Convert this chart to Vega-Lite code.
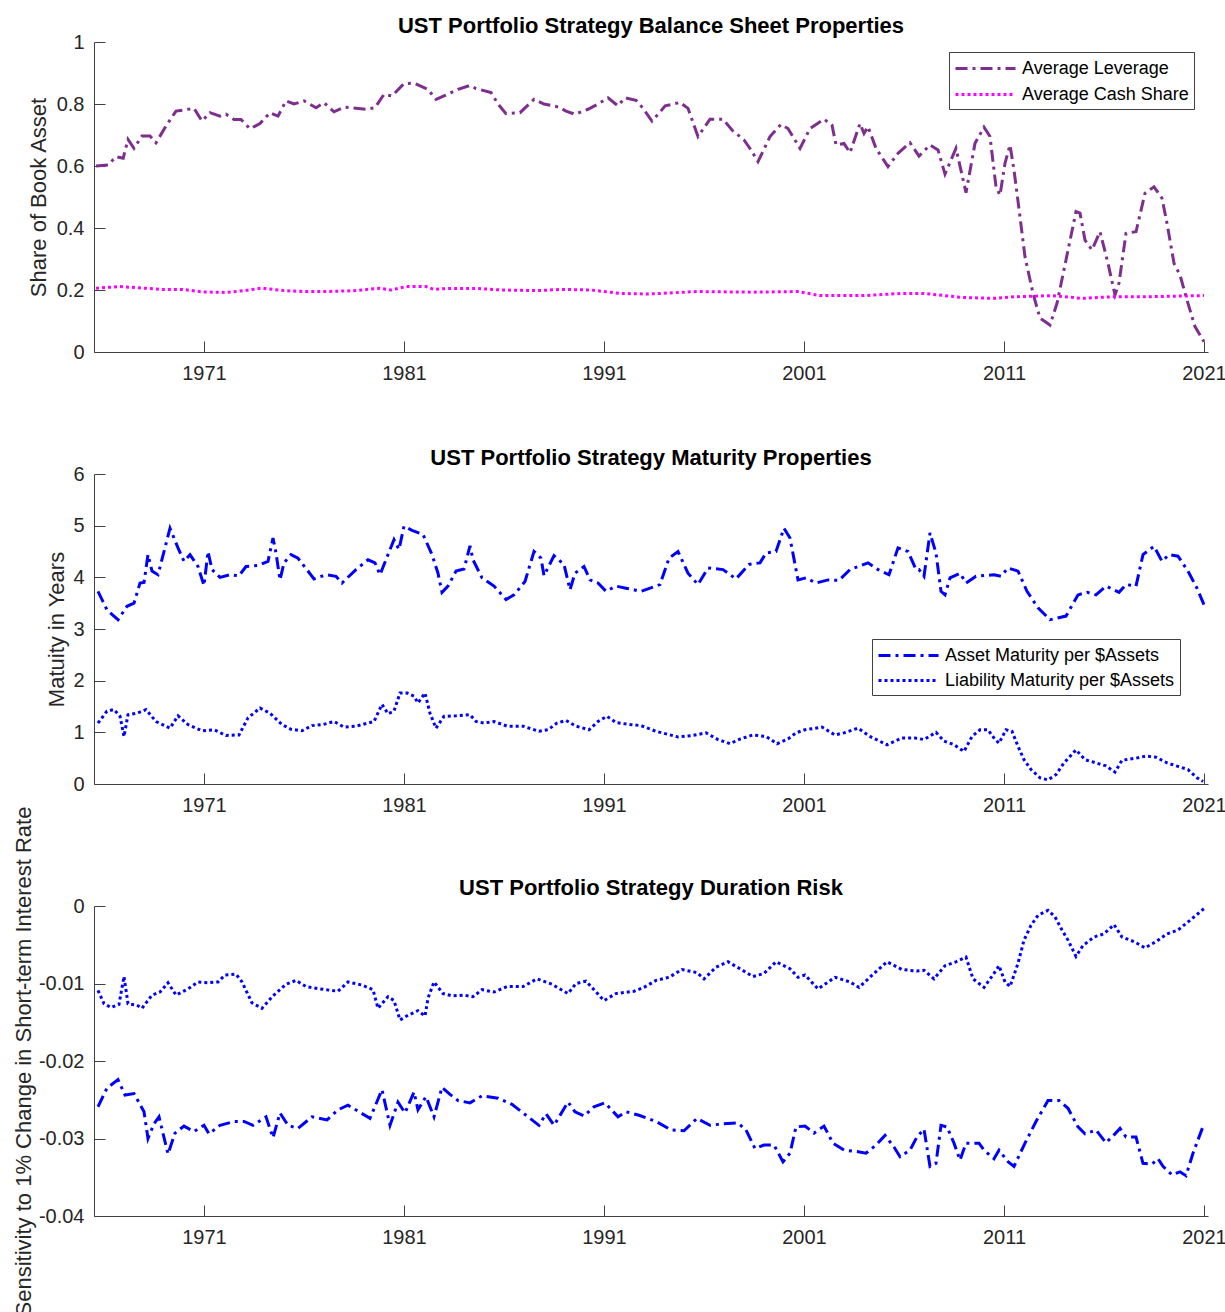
{
"$schema": "https://vega.github.io/schema/vega-lite/v6.json",
"background": "white",
"padding": {"left": 11, "top": 15, "right": 5, "bottom": 0},
"config": {
  "font": "Liberation Sans",
  "view": {"stroke": null},
  "axis": {"grid": false, "domainColor": "#404040", "tickColor": "#404040", "labelColor": "#262626", "titleColor": "#262626", "labelFontSize": 20, "titleFontSize": 22, "titleFontWeight": "normal", "tickSize": -11, "labelFont": "Liberation Sans", "titleFont": "Liberation Sans"},
  "title": {"fontSize": 22, "fontWeight": "bold", "color": "#000000", "offset": 9, "baseline": "alphabetic", "frame": "group", "anchor": "middle", "font": "Liberation Sans"},
  "legend": {"labelFont": "Liberation Sans", "labelFontSize": 18, "labelColor": "#000000", "labelLimit": 0}
},
"datasets": {
"p1": [
{"s":"Average Leverage","t":1965.6,"v":0.600},{"s":"Average Leverage","t":1966.2,"v":0.603},{"s":"Average Leverage","t":1966.6,"v":0.630},{"s":"Average Leverage","t":1966.96,"v":0.625},{"s":"Average Leverage","t":1967.2,"v":0.686},{"s":"Average Leverage","t":1967.5,"v":0.657},{"s":"Average Leverage","t":1967.9,"v":0.697},{"s":"Average Leverage","t":1968.3,"v":0.697},{"s":"Average Leverage","t":1968.6,"v":0.675},{"s":"Average Leverage","t":1969.1,"v":0.729},{"s":"Average Leverage","t":1969.6,"v":0.777},{"s":"Average Leverage","t":1970.5,"v":0.786},{"s":"Average Leverage","t":1970.9,"v":0.745},{"s":"Average Leverage","t":1971.3,"v":0.772},{"s":"Average Leverage","t":1971.8,"v":0.761},{"s":"Average Leverage","t":1972.1,"v":0.767},{"s":"Average Leverage","t":1972.5,"v":0.750},{"s":"Average Leverage","t":1972.85,"v":0.750},{"s":"Average Leverage","t":1973.3,"v":0.720},{"s":"Average Leverage","t":1973.8,"v":0.737},{"s":"Average Leverage","t":1974.3,"v":0.772},{"s":"Average Leverage","t":1974.7,"v":0.761},{"s":"Average Leverage","t":1975.1,"v":0.810},{"s":"Average Leverage","t":1975.5,"v":0.800},{"s":"Average Leverage","t":1976.0,"v":0.810},{"s":"Average Leverage","t":1976.6,"v":0.788},{"s":"Average Leverage","t":1977.0,"v":0.804},{"s":"Average Leverage","t":1977.5,"v":0.775},{"s":"Average Leverage","t":1978.0,"v":0.790},{"s":"Average Leverage","t":1978.6,"v":0.786},{"s":"Average Leverage","t":1979.1,"v":0.783},{"s":"Average Leverage","t":1979.55,"v":0.788},{"s":"Average Leverage","t":1980.0,"v":0.831},{"s":"Average Leverage","t":1980.4,"v":0.826},{"s":"Average Leverage","t":1981.0,"v":0.866},{"s":"Average Leverage","t":1981.5,"v":0.867},{"s":"Average Leverage","t":1982.0,"v":0.853},{"s":"Average Leverage","t":1982.2,"v":0.847},{"s":"Average Leverage","t":1982.6,"v":0.815},{"s":"Average Leverage","t":1983.0,"v":0.826},{"s":"Average Leverage","t":1983.7,"v":0.847},{"s":"Average Leverage","t":1984.3,"v":0.860},{"s":"Average Leverage","t":1984.6,"v":0.850},{"s":"Average Leverage","t":1985.35,"v":0.837},{"s":"Average Leverage","t":1985.7,"v":0.800},{"s":"Average Leverage","t":1986.1,"v":0.769},{"s":"Average Leverage","t":1986.8,"v":0.772},{"s":"Average Leverage","t":1987.5,"v":0.815},{"s":"Average Leverage","t":1988.0,"v":0.800},{"s":"Average Leverage","t":1988.75,"v":0.790},{"s":"Average Leverage","t":1989.1,"v":0.777},{"s":"Average Leverage","t":1989.55,"v":0.767},{"s":"Average Leverage","t":1990.2,"v":0.783},{"s":"Average Leverage","t":1990.7,"v":0.800},{"s":"Average Leverage","t":1991.2,"v":0.820},{"s":"Average Leverage","t":1991.7,"v":0.794},{"s":"Average Leverage","t":1992.05,"v":0.820},{"s":"Average Leverage","t":1992.6,"v":0.812},{"s":"Average Leverage","t":1992.9,"v":0.790},{"s":"Average Leverage","t":1993.4,"v":0.745},{"s":"Average Leverage","t":1994.06,"v":0.794},{"s":"Average Leverage","t":1994.8,"v":0.805},{"s":"Average Leverage","t":1995.2,"v":0.786},{"s":"Average Leverage","t":1995.7,"v":0.695},{"s":"Average Leverage","t":1996.3,"v":0.751},{"s":"Average Leverage","t":1996.95,"v":0.751},{"s":"Average Leverage","t":1997.4,"v":0.716},{"s":"Average Leverage","t":1998.0,"v":0.684},{"s":"Average Leverage","t":1998.35,"v":0.652},{"s":"Average Leverage","t":1998.7,"v":0.614},{"s":"Average Leverage","t":1999.3,"v":0.695},{"s":"Average Leverage","t":1999.85,"v":0.734},{"s":"Average Leverage","t":2000.2,"v":0.721},{"s":"Average Leverage","t":2000.8,"v":0.657},{"s":"Average Leverage","t":2001.3,"v":0.721},{"s":"Average Leverage","t":2002.0,"v":0.751},{"s":"Average Leverage","t":2002.4,"v":0.732},{"s":"Average Leverage","t":2002.6,"v":0.668},{"s":"Average Leverage","t":2003.0,"v":0.673},{"s":"Average Leverage","t":2003.3,"v":0.643},{"s":"Average Leverage","t":2003.8,"v":0.737},{"s":"Average Leverage","t":2004.0,"v":0.705},{"s":"Average Leverage","t":2004.2,"v":0.727},{"s":"Average Leverage","t":2004.6,"v":0.657},{"s":"Average Leverage","t":2005.2,"v":0.598},{"s":"Average Leverage","t":2005.7,"v":0.641},{"s":"Average Leverage","t":2006.3,"v":0.675},{"s":"Average Leverage","t":2006.75,"v":0.632},{"s":"Average Leverage","t":2007.3,"v":0.668},{"s":"Average Leverage","t":2007.7,"v":0.652},{"s":"Average Leverage","t":2008.05,"v":0.574},{"s":"Average Leverage","t":2008.6,"v":0.657},{"s":"Average Leverage","t":2009.1,"v":0.514},{"s":"Average Leverage","t":2009.55,"v":0.673},{"s":"Average Leverage","t":2010.0,"v":0.725},{"s":"Average Leverage","t":2010.3,"v":0.695},{"s":"Average Leverage","t":2010.6,"v":0.533},{"s":"Average Leverage","t":2010.8,"v":0.506},{"s":"Average Leverage","t":2011.05,"v":0.609},{"s":"Average Leverage","t":2011.3,"v":0.668},{"s":"Average Leverage","t":2011.5,"v":0.587},{"s":"Average Leverage","t":2011.8,"v":0.436},{"s":"Average Leverage","t":2012.05,"v":0.307},{"s":"Average Leverage","t":2012.45,"v":0.189},{"s":"Average Leverage","t":2012.8,"v":0.109},{"s":"Average Leverage","t":2013.3,"v":0.087},{"s":"Average Leverage","t":2013.65,"v":0.157},{"s":"Average Leverage","t":2014.1,"v":0.297},{"s":"Average Leverage","t":2014.6,"v":0.453},{"s":"Average Leverage","t":2014.8,"v":0.448},{"s":"Average Leverage","t":2015.05,"v":0.361},{"s":"Average Leverage","t":2015.4,"v":0.329},{"s":"Average Leverage","t":2015.8,"v":0.388},{"s":"Average Leverage","t":2016.2,"v":0.286},{"s":"Average Leverage","t":2016.55,"v":0.184},{"s":"Average Leverage","t":2016.75,"v":0.222},{"s":"Average Leverage","t":2017.1,"v":0.383},{"s":"Average Leverage","t":2017.6,"v":0.388},{"s":"Average Leverage","t":2018.05,"v":0.512},{"s":"Average Leverage","t":2018.5,"v":0.533},{"s":"Average Leverage","t":2018.9,"v":0.496},{"s":"Average Leverage","t":2019.15,"v":0.415},{"s":"Average Leverage","t":2019.5,"v":0.286},{"s":"Average Leverage","t":2019.8,"v":0.248},{"s":"Average Leverage","t":2020.2,"v":0.157},{"s":"Average Leverage","t":2020.55,"v":0.082},{"s":"Average Leverage","t":2021.0,"v":0.033},
{"s":"Average Cash Share","t":1965.6,"v":0.206},{"s":"Average Cash Share","t":1966.8,"v":0.211},{"s":"Average Cash Share","t":1968.0,"v":0.206},{"s":"Average Cash Share","t":1968.9,"v":0.202},{"s":"Average Cash Share","t":1969.9,"v":0.202},{"s":"Average Cash Share","t":1970.9,"v":0.194},{"s":"Average Cash Share","t":1972.1,"v":0.192},{"s":"Average Cash Share","t":1973.0,"v":0.198},{"s":"Average Cash Share","t":1973.9,"v":0.206},{"s":"Average Cash Share","t":1975.0,"v":0.198},{"s":"Average Cash Share","t":1976.1,"v":0.195},{"s":"Average Cash Share","t":1977.1,"v":0.195},{"s":"Average Cash Share","t":1978.6,"v":0.198},{"s":"Average Cash Share","t":1979.8,"v":0.206},{"s":"Average Cash Share","t":1980.35,"v":0.200},{"s":"Average Cash Share","t":1981.1,"v":0.211},{"s":"Average Cash Share","t":1982.1,"v":0.211},{"s":"Average Cash Share","t":1982.5,"v":0.202},{"s":"Average Cash Share","t":1983.2,"v":0.205},{"s":"Average Cash Share","t":1984.6,"v":0.205},{"s":"Average Cash Share","t":1985.9,"v":0.200},{"s":"Average Cash Share","t":1987.7,"v":0.198},{"s":"Average Cash Share","t":1988.9,"v":0.202},{"s":"Average Cash Share","t":1990.35,"v":0.200},{"s":"Average Cash Share","t":1991.8,"v":0.189},{"s":"Average Cash Share","t":1993.2,"v":0.187},{"s":"Average Cash Share","t":1995.65,"v":0.195},{"s":"Average Cash Share","t":1998.45,"v":0.193},{"s":"Average Cash Share","t":2000.7,"v":0.195},{"s":"Average Cash Share","t":2001.8,"v":0.182},{"s":"Average Cash Share","t":2004.0,"v":0.182},{"s":"Average Cash Share","t":2005.9,"v":0.189},{"s":"Average Cash Share","t":2007.0,"v":0.189},{"s":"Average Cash Share","t":2008.9,"v":0.176},{"s":"Average Cash Share","t":2010.6,"v":0.173},{"s":"Average Cash Share","t":2011.5,"v":0.178},{"s":"Average Cash Share","t":2013.4,"v":0.182},{"s":"Average Cash Share","t":2014.9,"v":0.173},{"s":"Average Cash Share","t":2016.35,"v":0.178},{"s":"Average Cash Share","t":2018.0,"v":0.178},{"s":"Average Cash Share","t":2021.0,"v":0.182}
],
"p2": [
{"s":"Asset Maturity per $Assets","t":1965.7,"v":3.73},{"s":"Asset Maturity per $Assets","t":1966.15,"v":3.37},{"s":"Asset Maturity per $Assets","t":1966.7,"v":3.18},{"s":"Asset Maturity per $Assets","t":1967.15,"v":3.44},{"s":"Asset Maturity per $Assets","t":1967.5,"v":3.50},{"s":"Asset Maturity per $Assets","t":1967.8,"v":3.89},{"s":"Asset Maturity per $Assets","t":1968.0,"v":3.90},{"s":"Asset Maturity per $Assets","t":1968.2,"v":4.44},{"s":"Asset Maturity per $Assets","t":1968.4,"v":4.12},{"s":"Asset Maturity per $Assets","t":1968.7,"v":4.05},{"s":"Asset Maturity per $Assets","t":1969.3,"v":4.95},{"s":"Asset Maturity per $Assets","t":1969.7,"v":4.57},{"s":"Asset Maturity per $Assets","t":1970.0,"v":4.31},{"s":"Asset Maturity per $Assets","t":1970.3,"v":4.44},{"s":"Asset Maturity per $Assets","t":1970.7,"v":4.21},{"s":"Asset Maturity per $Assets","t":1971.0,"v":3.84},{"s":"Asset Maturity per $Assets","t":1971.2,"v":4.50},{"s":"Asset Maturity per $Assets","t":1971.4,"v":4.15},{"s":"Asset Maturity per $Assets","t":1971.8,"v":4.00},{"s":"Asset Maturity per $Assets","t":1972.3,"v":4.05},{"s":"Asset Maturity per $Assets","t":1972.75,"v":4.03},{"s":"Asset Maturity per $Assets","t":1973.1,"v":4.21},{"s":"Asset Maturity per $Assets","t":1973.7,"v":4.23},{"s":"Asset Maturity per $Assets","t":1974.2,"v":4.31},{"s":"Asset Maturity per $Assets","t":1974.45,"v":4.76},{"s":"Asset Maturity per $Assets","t":1974.6,"v":4.47},{"s":"Asset Maturity per $Assets","t":1974.8,"v":3.95},{"s":"Asset Maturity per $Assets","t":1975.0,"v":4.28},{"s":"Asset Maturity per $Assets","t":1975.35,"v":4.44},{"s":"Asset Maturity per $Assets","t":1975.7,"v":4.37},{"s":"Asset Maturity per $Assets","t":1976.5,"v":3.97},{"s":"Asset Maturity per $Assets","t":1977.1,"v":4.05},{"s":"Asset Maturity per $Assets","t":1977.6,"v":4.02},{"s":"Asset Maturity per $Assets","t":1977.9,"v":3.89},{"s":"Asset Maturity per $Assets","t":1978.6,"v":4.15},{"s":"Asset Maturity per $Assets","t":1979.2,"v":4.34},{"s":"Asset Maturity per $Assets","t":1979.55,"v":4.28},{"s":"Asset Maturity per $Assets","t":1979.8,"v":4.05},{"s":"Asset Maturity per $Assets","t":1980.2,"v":4.44},{"s":"Asset Maturity per $Assets","t":1980.5,"v":4.73},{"s":"Asset Maturity per $Assets","t":1980.75,"v":4.54},{"s":"Asset Maturity per $Assets","t":1981.0,"v":4.99},{"s":"Asset Maturity per $Assets","t":1981.4,"v":4.91},{"s":"Asset Maturity per $Assets","t":1981.95,"v":4.83},{"s":"Asset Maturity per $Assets","t":1982.4,"v":4.44},{"s":"Asset Maturity per $Assets","t":1982.7,"v":4.08},{"s":"Asset Maturity per $Assets","t":1982.9,"v":3.71},{"s":"Asset Maturity per $Assets","t":1983.2,"v":3.83},{"s":"Asset Maturity per $Assets","t":1983.6,"v":4.12},{"s":"Asset Maturity per $Assets","t":1984.0,"v":4.16},{"s":"Asset Maturity per $Assets","t":1984.3,"v":4.61},{"s":"Asset Maturity per $Assets","t":1984.45,"v":4.34},{"s":"Asset Maturity per $Assets","t":1984.9,"v":3.99},{"s":"Asset Maturity per $Assets","t":1985.5,"v":3.83},{"s":"Asset Maturity per $Assets","t":1986.1,"v":3.57},{"s":"Asset Maturity per $Assets","t":1986.5,"v":3.66},{"s":"Asset Maturity per $Assets","t":1987.05,"v":3.92},{"s":"Asset Maturity per $Assets","t":1987.5,"v":4.50},{"s":"Asset Maturity per $Assets","t":1987.85,"v":4.37},{"s":"Asset Maturity per $Assets","t":1988.0,"v":4.03},{"s":"Asset Maturity per $Assets","t":1988.5,"v":4.42},{"s":"Asset Maturity per $Assets","t":1989.0,"v":4.25},{"s":"Asset Maturity per $Assets","t":1989.3,"v":3.76},{"s":"Asset Maturity per $Assets","t":1989.55,"v":4.08},{"s":"Asset Maturity per $Assets","t":1990.0,"v":4.21},{"s":"Asset Maturity per $Assets","t":1990.3,"v":3.95},{"s":"Asset Maturity per $Assets","t":1990.7,"v":3.89},{"s":"Asset Maturity per $Assets","t":1991.1,"v":3.73},{"s":"Asset Maturity per $Assets","t":1991.6,"v":3.83},{"s":"Asset Maturity per $Assets","t":1992.1,"v":3.79},{"s":"Asset Maturity per $Assets","t":1992.85,"v":3.73},{"s":"Asset Maturity per $Assets","t":1993.8,"v":3.86},{"s":"Asset Maturity per $Assets","t":1994.25,"v":4.37},{"s":"Asset Maturity per $Assets","t":1994.7,"v":4.50},{"s":"Asset Maturity per $Assets","t":1995.2,"v":4.08},{"s":"Asset Maturity per $Assets","t":1995.7,"v":3.86},{"s":"Asset Maturity per $Assets","t":1996.2,"v":4.18},{"s":"Asset Maturity per $Assets","t":1996.95,"v":4.15},{"s":"Asset Maturity per $Assets","t":1997.6,"v":3.97},{"s":"Asset Maturity per $Assets","t":1998.25,"v":4.25},{"s":"Asset Maturity per $Assets","t":1998.8,"v":4.28},{"s":"Asset Maturity per $Assets","t":1999.1,"v":4.47},{"s":"Asset Maturity per $Assets","t":1999.6,"v":4.50},{"s":"Asset Maturity per $Assets","t":2000.0,"v":4.95},{"s":"Asset Maturity per $Assets","t":2000.3,"v":4.76},{"s":"Asset Maturity per $Assets","t":2000.7,"v":3.95},{"s":"Asset Maturity per $Assets","t":2001.1,"v":3.99},{"s":"Asset Maturity per $Assets","t":2001.6,"v":3.89},{"s":"Asset Maturity per $Assets","t":2002.2,"v":3.95},{"s":"Asset Maturity per $Assets","t":2002.75,"v":3.94},{"s":"Asset Maturity per $Assets","t":2003.3,"v":4.15},{"s":"Asset Maturity per $Assets","t":2004.2,"v":4.28},{"s":"Asset Maturity per $Assets","t":2004.7,"v":4.15},{"s":"Asset Maturity per $Assets","t":2005.25,"v":4.05},{"s":"Asset Maturity per $Assets","t":2005.7,"v":4.57},{"s":"Asset Maturity per $Assets","t":2006.2,"v":4.50},{"s":"Asset Maturity per $Assets","t":2006.6,"v":4.15},{"s":"Asset Maturity per $Assets","t":2006.75,"v":4.15},{"s":"Asset Maturity per $Assets","t":2007.0,"v":4.02},{"s":"Asset Maturity per $Assets","t":2007.3,"v":4.86},{"s":"Asset Maturity per $Assets","t":2007.6,"v":4.47},{"s":"Asset Maturity per $Assets","t":2007.85,"v":3.73},{"s":"Asset Maturity per $Assets","t":2008.05,"v":3.66},{"s":"Asset Maturity per $Assets","t":2008.3,"v":3.99},{"s":"Asset Maturity per $Assets","t":2008.8,"v":4.08},{"s":"Asset Maturity per $Assets","t":2009.1,"v":3.89},{"s":"Asset Maturity per $Assets","t":2009.6,"v":4.02},{"s":"Asset Maturity per $Assets","t":2010.5,"v":4.05},{"s":"Asset Maturity per $Assets","t":2010.85,"v":4.02},{"s":"Asset Maturity per $Assets","t":2011.2,"v":4.18},{"s":"Asset Maturity per $Assets","t":2011.7,"v":4.12},{"s":"Asset Maturity per $Assets","t":2012.15,"v":3.73},{"s":"Asset Maturity per $Assets","t":2012.7,"v":3.41},{"s":"Asset Maturity per $Assets","t":2013.3,"v":3.18},{"s":"Asset Maturity per $Assets","t":2014.1,"v":3.25},{"s":"Asset Maturity per $Assets","t":2014.7,"v":3.66},{"s":"Asset Maturity per $Assets","t":2015.15,"v":3.71},{"s":"Asset Maturity per $Assets","t":2015.6,"v":3.66},{"s":"Asset Maturity per $Assets","t":2016.1,"v":3.83},{"s":"Asset Maturity per $Assets","t":2016.75,"v":3.71},{"s":"Asset Maturity per $Assets","t":2017.1,"v":3.86},{"s":"Asset Maturity per $Assets","t":2017.6,"v":3.83},{"s":"Asset Maturity per $Assets","t":2017.95,"v":4.44},{"s":"Asset Maturity per $Assets","t":2018.5,"v":4.60},{"s":"Asset Maturity per $Assets","t":2018.9,"v":4.31},{"s":"Asset Maturity per $Assets","t":2019.25,"v":4.44},{"s":"Asset Maturity per $Assets","t":2019.7,"v":4.41},{"s":"Asset Maturity per $Assets","t":2020.2,"v":4.12},{"s":"Asset Maturity per $Assets","t":2020.65,"v":3.79},{"s":"Asset Maturity per $Assets","t":2021.0,"v":3.47},
{"s":"Liability Maturity per $Assets","t":1965.7,"v":1.18},{"s":"Liability Maturity per $Assets","t":1966.15,"v":1.41},{"s":"Liability Maturity per $Assets","t":1966.5,"v":1.44},{"s":"Liability Maturity per $Assets","t":1966.8,"v":1.31},{"s":"Liability Maturity per $Assets","t":1967.0,"v":0.92},{"s":"Liability Maturity per $Assets","t":1967.2,"v":1.34},{"s":"Liability Maturity per $Assets","t":1967.65,"v":1.37},{"s":"Liability Maturity per $Assets","t":1968.1,"v":1.44},{"s":"Liability Maturity per $Assets","t":1968.6,"v":1.21},{"s":"Liability Maturity per $Assets","t":1969.3,"v":1.08},{"s":"Liability Maturity per $Assets","t":1969.7,"v":1.32},{"s":"Liability Maturity per $Assets","t":1970.2,"v":1.15},{"s":"Liability Maturity per $Assets","t":1970.9,"v":1.03},{"s":"Liability Maturity per $Assets","t":1971.5,"v":1.05},{"s":"Liability Maturity per $Assets","t":1972.1,"v":0.94},{"s":"Liability Maturity per $Assets","t":1972.75,"v":0.95},{"s":"Liability Maturity per $Assets","t":1973.2,"v":1.28},{"s":"Liability Maturity per $Assets","t":1973.8,"v":1.47},{"s":"Liability Maturity per $Assets","t":1974.3,"v":1.37},{"s":"Liability Maturity per $Assets","t":1974.9,"v":1.15},{"s":"Liability Maturity per $Assets","t":1975.35,"v":1.06},{"s":"Liability Maturity per $Assets","t":1975.9,"v":1.03},{"s":"Liability Maturity per $Assets","t":1976.4,"v":1.13},{"s":"Liability Maturity per $Assets","t":1976.95,"v":1.15},{"s":"Liability Maturity per $Assets","t":1977.5,"v":1.21},{"s":"Liability Maturity per $Assets","t":1978.0,"v":1.10},{"s":"Liability Maturity per $Assets","t":1978.6,"v":1.12},{"s":"Liability Maturity per $Assets","t":1979.5,"v":1.21},{"s":"Liability Maturity per $Assets","t":1979.9,"v":1.54},{"s":"Liability Maturity per $Assets","t":1980.2,"v":1.36},{"s":"Liability Maturity per $Assets","t":1980.5,"v":1.41},{"s":"Liability Maturity per $Assets","t":1980.8,"v":1.76},{"s":"Liability Maturity per $Assets","t":1981.15,"v":1.76},{"s":"Liability Maturity per $Assets","t":1981.5,"v":1.70},{"s":"Liability Maturity per $Assets","t":1981.7,"v":1.57},{"s":"Liability Maturity per $Assets","t":1982.05,"v":1.76},{"s":"Liability Maturity per $Assets","t":1982.3,"v":1.37},{"s":"Liability Maturity per $Assets","t":1982.6,"v":1.08},{"s":"Liability Maturity per $Assets","t":1983.0,"v":1.31},{"s":"Liability Maturity per $Assets","t":1983.6,"v":1.32},{"s":"Liability Maturity per $Assets","t":1984.3,"v":1.34},{"s":"Liability Maturity per $Assets","t":1984.6,"v":1.21},{"s":"Liability Maturity per $Assets","t":1985.0,"v":1.18},{"s":"Liability Maturity per $Assets","t":1985.5,"v":1.21},{"s":"Liability Maturity per $Assets","t":1986.15,"v":1.12},{"s":"Liability Maturity per $Assets","t":1986.95,"v":1.12},{"s":"Liability Maturity per $Assets","t":1987.75,"v":1.02},{"s":"Liability Maturity per $Assets","t":1988.2,"v":1.05},{"s":"Liability Maturity per $Assets","t":1988.65,"v":1.18},{"s":"Liability Maturity per $Assets","t":1989.1,"v":1.23},{"s":"Liability Maturity per $Assets","t":1989.6,"v":1.12},{"s":"Liability Maturity per $Assets","t":1990.25,"v":1.05},{"s":"Liability Maturity per $Assets","t":1990.7,"v":1.21},{"s":"Liability Maturity per $Assets","t":1991.15,"v":1.31},{"s":"Liability Maturity per $Assets","t":1991.6,"v":1.19},{"s":"Liability Maturity per $Assets","t":1992.3,"v":1.15},{"s":"Liability Maturity per $Assets","t":1992.85,"v":1.13},{"s":"Liability Maturity per $Assets","t":1993.6,"v":1.02},{"s":"Liability Maturity per $Assets","t":1994.7,"v":0.91},{"s":"Liability Maturity per $Assets","t":1995.45,"v":0.94},{"s":"Liability Maturity per $Assets","t":1996.1,"v":0.99},{"s":"Liability Maturity per $Assets","t":1996.7,"v":0.86},{"s":"Liability Maturity per $Assets","t":1997.3,"v":0.78},{"s":"Liability Maturity per $Assets","t":1997.8,"v":0.87},{"s":"Liability Maturity per $Assets","t":1998.45,"v":0.95},{"s":"Liability Maturity per $Assets","t":1999.1,"v":0.92},{"s":"Liability Maturity per $Assets","t":1999.65,"v":0.78},{"s":"Liability Maturity per $Assets","t":2000.2,"v":0.87},{"s":"Liability Maturity per $Assets","t":2000.6,"v":0.99},{"s":"Liability Maturity per $Assets","t":2001.05,"v":1.05},{"s":"Liability Maturity per $Assets","t":2001.9,"v":1.10},{"s":"Liability Maturity per $Assets","t":2002.55,"v":0.95},{"s":"Liability Maturity per $Assets","t":2003.0,"v":0.99},{"s":"Liability Maturity per $Assets","t":2003.7,"v":1.08},{"s":"Liability Maturity per $Assets","t":2004.3,"v":0.92},{"s":"Liability Maturity per $Assets","t":2005.15,"v":0.76},{"s":"Liability Maturity per $Assets","t":2005.9,"v":0.89},{"s":"Liability Maturity per $Assets","t":2006.55,"v":0.89},{"s":"Liability Maturity per $Assets","t":2007.0,"v":0.86},{"s":"Liability Maturity per $Assets","t":2007.6,"v":1.00},{"s":"Liability Maturity per $Assets","t":2008.0,"v":0.83},{"s":"Liability Maturity per $Assets","t":2008.5,"v":0.76},{"s":"Liability Maturity per $Assets","t":2009.0,"v":0.63},{"s":"Liability Maturity per $Assets","t":2009.4,"v":0.92},{"s":"Liability Maturity per $Assets","t":2009.8,"v":1.05},{"s":"Liability Maturity per $Assets","t":2010.2,"v":1.05},{"s":"Liability Maturity per $Assets","t":2010.5,"v":0.89},{"s":"Liability Maturity per $Assets","t":2010.75,"v":0.79},{"s":"Liability Maturity per $Assets","t":2011.1,"v":1.05},{"s":"Liability Maturity per $Assets","t":2011.4,"v":1.02},{"s":"Liability Maturity per $Assets","t":2011.7,"v":0.73},{"s":"Liability Maturity per $Assets","t":2012.0,"v":0.47},{"s":"Liability Maturity per $Assets","t":2012.35,"v":0.28},{"s":"Liability Maturity per $Assets","t":2012.8,"v":0.12},{"s":"Liability Maturity per $Assets","t":2013.2,"v":0.08},{"s":"Liability Maturity per $Assets","t":2013.6,"v":0.18},{"s":"Liability Maturity per $Assets","t":2014.0,"v":0.41},{"s":"Liability Maturity per $Assets","t":2014.6,"v":0.66},{"s":"Liability Maturity per $Assets","t":2015.05,"v":0.47},{"s":"Liability Maturity per $Assets","t":2015.5,"v":0.42},{"s":"Liability Maturity per $Assets","t":2016.1,"v":0.35},{"s":"Liability Maturity per $Assets","t":2016.55,"v":0.23},{"s":"Liability Maturity per $Assets","t":2016.9,"v":0.46},{"s":"Liability Maturity per $Assets","t":2017.6,"v":0.50},{"s":"Liability Maturity per $Assets","t":2018.1,"v":0.54},{"s":"Liability Maturity per $Assets","t":2018.6,"v":0.52},{"s":"Liability Maturity per $Assets","t":2019.15,"v":0.41},{"s":"Liability Maturity per $Assets","t":2019.7,"v":0.34},{"s":"Liability Maturity per $Assets","t":2020.2,"v":0.28},{"s":"Liability Maturity per $Assets","t":2020.65,"v":0.12},{"s":"Liability Maturity per $Assets","t":2020.95,"v":0.05}
],
"p3": [
{"s":"Liability","t":1965.7,"v":-0.0109},{"s":"Liability","t":1966.0,"v":-0.0126},{"s":"Liability","t":1966.35,"v":-0.0131},{"s":"Liability","t":1966.75,"v":-0.0127},{"s":"Liability","t":1967.0,"v":-0.0091},{"s":"Liability","t":1967.2,"v":-0.0126},{"s":"Liability","t":1967.65,"v":-0.0128},{"s":"Liability","t":1967.9,"v":-0.0132},{"s":"Liability","t":1968.4,"v":-0.0115},{"s":"Liability","t":1968.8,"v":-0.0111},{"s":"Liability","t":1969.2,"v":-0.0099},{"s":"Liability","t":1969.6,"v":-0.0115},{"s":"Liability","t":1970.2,"v":-0.0107},{"s":"Liability","t":1970.7,"v":-0.0098},{"s":"Liability","t":1971.2,"v":-0.0099},{"s":"Liability","t":1971.7,"v":-0.0098},{"s":"Liability","t":1972.05,"v":-0.0089},{"s":"Liability","t":1972.6,"v":-0.0088},{"s":"Liability","t":1972.9,"v":-0.0098},{"s":"Liability","t":1973.4,"v":-0.0125},{"s":"Liability","t":1973.9,"v":-0.0132},{"s":"Liability","t":1974.45,"v":-0.0116},{"s":"Liability","t":1975.1,"v":-0.0101},{"s":"Liability","t":1975.6,"v":-0.0096},{"s":"Liability","t":1976.1,"v":-0.0104},{"s":"Liability","t":1976.8,"v":-0.0107},{"s":"Liability","t":1977.7,"v":-0.0110},{"s":"Liability","t":1978.2,"v":-0.0098},{"s":"Liability","t":1978.9,"v":-0.0102},{"s":"Liability","t":1979.45,"v":-0.0108},{"s":"Liability","t":1979.7,"v":-0.0132},{"s":"Liability","t":1980.2,"v":-0.0117},{"s":"Liability","t":1980.5,"v":-0.0122},{"s":"Liability","t":1980.8,"v":-0.0147},{"s":"Liability","t":1981.2,"v":-0.0141},{"s":"Liability","t":1981.7,"v":-0.0135},{"s":"Liability","t":1982.05,"v":-0.0142},{"s":"Liability","t":1982.2,"v":-0.0119},{"s":"Liability","t":1982.5,"v":-0.0098},{"s":"Liability","t":1982.95,"v":-0.0113},{"s":"Liability","t":1983.4,"v":-0.0116},{"s":"Liability","t":1984.0,"v":-0.0115},{"s":"Liability","t":1984.45,"v":-0.0117},{"s":"Liability","t":1984.9,"v":-0.0108},{"s":"Liability","t":1985.5,"v":-0.0111},{"s":"Liability","t":1986.15,"v":-0.0104},{"s":"Liability","t":1986.95,"v":-0.0104},{"s":"Liability","t":1987.65,"v":-0.0094},{"s":"Liability","t":1988.4,"v":-0.0101},{"s":"Liability","t":1989.2,"v":-0.0113},{"s":"Liability","t":1989.6,"v":-0.0100},{"s":"Liability","t":1990.1,"v":-0.0097},{"s":"Liability","t":1990.5,"v":-0.0108},{"s":"Liability","t":1991.0,"v":-0.0122},{"s":"Liability","t":1991.6,"v":-0.0113},{"s":"Liability","t":1992.5,"v":-0.0110},{"s":"Liability","t":1993.0,"v":-0.0105},{"s":"Liability","t":1993.6,"v":-0.0096},{"s":"Liability","t":1994.25,"v":-0.0092},{"s":"Liability","t":1994.9,"v":-0.0082},{"s":"Liability","t":1995.65,"v":-0.0086},{"s":"Liability","t":1996.0,"v":-0.0094},{"s":"Liability","t":1996.6,"v":-0.0079},{"s":"Liability","t":1997.2,"v":-0.0072},{"s":"Liability","t":1997.8,"v":-0.0081},{"s":"Liability","t":1998.45,"v":-0.0091},{"s":"Liability","t":1999.0,"v":-0.0087},{"s":"Liability","t":1999.6,"v":-0.0072},{"s":"Liability","t":2000.3,"v":-0.0081},{"s":"Liability","t":2000.7,"v":-0.0092},{"s":"Liability","t":2001.05,"v":-0.0089},{"s":"Liability","t":2001.7,"v":-0.0107},{"s":"Liability","t":2002.55,"v":-0.0092},{"s":"Liability","t":2003.3,"v":-0.0098},{"s":"Liability","t":2003.75,"v":-0.0105},{"s":"Liability","t":2004.5,"v":-0.0087},{"s":"Liability","t":2005.15,"v":-0.0072},{"s":"Liability","t":2005.9,"v":-0.0082},{"s":"Liability","t":2006.65,"v":-0.0084},{"s":"Liability","t":2007.0,"v":-0.0083},{"s":"Liability","t":2007.5,"v":-0.0094},{"s":"Liability","t":2008.05,"v":-0.0077},{"s":"Liability","t":2008.6,"v":-0.0072},{"s":"Liability","t":2009.1,"v":-0.0066},{"s":"Liability","t":2009.45,"v":-0.0094},{"s":"Liability","t":2010.0,"v":-0.0105},{"s":"Liability","t":2010.5,"v":-0.0087},{"s":"Liability","t":2010.75,"v":-0.0077},{"s":"Liability","t":2011.05,"v":-0.0098},{"s":"Liability","t":2011.3,"v":-0.0104},{"s":"Liability","t":2011.7,"v":-0.0074},{"s":"Liability","t":2012.0,"v":-0.0044},{"s":"Liability","t":2012.35,"v":-0.0025},{"s":"Liability","t":2012.7,"v":-0.0012},{"s":"Liability","t":2013.2,"v":-0.00056},{"s":"Liability","t":2013.55,"v":-0.0014},{"s":"Liability","t":2013.9,"v":-0.0031},{"s":"Liability","t":2014.2,"v":-0.0044},{"s":"Liability","t":2014.6,"v":-0.0065},{"s":"Liability","t":2014.95,"v":-0.0051},{"s":"Liability","t":2015.5,"v":-0.0040},{"s":"Liability","t":2016.0,"v":-0.0036},{"s":"Liability","t":2016.5,"v":-0.0024},{"s":"Liability","t":2016.9,"v":-0.0040},{"s":"Liability","t":2017.5,"v":-0.0046},{"s":"Liability","t":2018.05,"v":-0.0054},{"s":"Liability","t":2018.6,"v":-0.0046},{"s":"Liability","t":2019.15,"v":-0.0036},{"s":"Liability","t":2019.7,"v":-0.0031},{"s":"Liability","t":2020.3,"v":-0.00185},{"s":"Liability","t":2021.0,"v":-0.00034},
{"s":"Asset","t":1965.7,"v":-0.0259},{"s":"Asset","t":1966.15,"v":-0.0235},{"s":"Asset","t":1966.7,"v":-0.0224},{"s":"Asset","t":1967.05,"v":-0.0244},{"s":"Asset","t":1967.5,"v":-0.0242},{"s":"Asset","t":1968.0,"v":-0.02655},{"s":"Asset","t":1968.2,"v":-0.0300},{"s":"Asset","t":1968.5,"v":-0.0281},{"s":"Asset","t":1968.75,"v":-0.0272},{"s":"Asset","t":1969.2,"v":-0.0320},{"s":"Asset","t":1969.55,"v":-0.0293},{"s":"Asset","t":1970.0,"v":-0.0284},{"s":"Asset","t":1970.5,"v":-0.0291},{"s":"Asset","t":1971.0,"v":-0.0283},{"s":"Asset","t":1971.25,"v":-0.0294},{"s":"Asset","t":1971.8,"v":-0.0283},{"s":"Asset","t":1972.5,"v":-0.0278},{"s":"Asset","t":1973.0,"v":-0.0278},{"s":"Asset","t":1973.45,"v":-0.0283},{"s":"Asset","t":1974.1,"v":-0.0272},{"s":"Asset","t":1974.45,"v":-0.0299},{"s":"Asset","t":1974.8,"v":-0.0267},{"s":"Asset","t":1975.2,"v":-0.0283},{"s":"Asset","t":1975.7,"v":-0.0287},{"s":"Asset","t":1976.4,"v":-0.0272},{"s":"Asset","t":1977.15,"v":-0.0276},{"s":"Asset","t":1977.7,"v":-0.0263},{"s":"Asset","t":1978.2,"v":-0.0257},{"s":"Asset","t":1978.75,"v":-0.02655},{"s":"Asset","t":1979.3,"v":-0.0274},{"s":"Asset","t":1979.9,"v":-0.0237},{"s":"Asset","t":1980.3,"v":-0.0283},{"s":"Asset","t":1980.7,"v":-0.0253},{"s":"Asset","t":1981.05,"v":-0.0267},{"s":"Asset","t":1981.5,"v":-0.0240},{"s":"Asset","t":1981.7,"v":-0.0263},{"s":"Asset","t":1982.1,"v":-0.0246},{"s":"Asset","t":1982.5,"v":-0.0272},{"s":"Asset","t":1982.9,"v":-0.0234},{"s":"Asset","t":1983.3,"v":-0.0243},{"s":"Asset","t":1983.7,"v":-0.0251},{"s":"Asset","t":1984.3,"v":-0.0254},{"s":"Asset","t":1984.9,"v":-0.0245},{"s":"Asset","t":1985.7,"v":-0.0248},{"s":"Asset","t":1986.4,"v":-0.0256},{"s":"Asset","t":1986.95,"v":-0.0267},{"s":"Asset","t":1987.75,"v":-0.0283},{"s":"Asset","t":1988.1,"v":-0.0268},{"s":"Asset","t":1988.5,"v":-0.0283},{"s":"Asset","t":1989.2,"v":-0.0253},{"s":"Asset","t":1989.55,"v":-0.02655},{"s":"Asset","t":1990.0,"v":-0.0271},{"s":"Asset","t":1990.5,"v":-0.0259},{"s":"Asset","t":1991.05,"v":-0.0254},{"s":"Asset","t":1991.7,"v":-0.0272},{"s":"Asset","t":1992.1,"v":-0.02655},{"s":"Asset","t":1992.75,"v":-0.0270},{"s":"Asset","t":1993.6,"v":-0.0278},{"s":"Asset","t":1994.35,"v":-0.0289},{"s":"Asset","t":1995.0,"v":-0.0290},{"s":"Asset","t":1995.65,"v":-0.0274},{"s":"Asset","t":1996.3,"v":-0.0283},{"s":"Asset","t":1996.95,"v":-0.0281},{"s":"Asset","t":1997.7,"v":-0.0280},{"s":"Asset","t":1998.1,"v":-0.0289},{"s":"Asset","t":1998.55,"v":-0.0313},{"s":"Asset","t":1999.0,"v":-0.03085},{"s":"Asset","t":1999.5,"v":-0.03085},{"s":"Asset","t":1999.95,"v":-0.0330},{"s":"Asset","t":2000.3,"v":-0.0319},{"s":"Asset","t":2000.6,"v":-0.0285},{"s":"Asset","t":2001.05,"v":-0.0284},{"s":"Asset","t":2001.5,"v":-0.0293},{"s":"Asset","t":2002.0,"v":-0.0284},{"s":"Asset","t":2002.45,"v":-0.0306},{"s":"Asset","t":2003.0,"v":-0.0315},{"s":"Asset","t":2003.7,"v":-0.0317},{"s":"Asset","t":2004.1,"v":-0.0319},{"s":"Asset","t":2004.6,"v":-0.03085},{"s":"Asset","t":2005.05,"v":-0.0296},{"s":"Asset","t":2005.5,"v":-0.0311},{"s":"Asset","t":2005.8,"v":-0.03235},{"s":"Asset","t":2006.3,"v":-0.0315},{"s":"Asset","t":2006.65,"v":-0.0298},{"s":"Asset","t":2007.0,"v":-0.0288},{"s":"Asset","t":2007.3,"v":-0.0336},{"s":"Asset","t":2007.6,"v":-0.0332},{"s":"Asset","t":2007.85,"v":-0.0283},{"s":"Asset","t":2008.15,"v":-0.0285},{"s":"Asset","t":2008.5,"v":-0.0306},{"s":"Asset","t":2008.8,"v":-0.0328},{"s":"Asset","t":2009.1,"v":-0.0306},{"s":"Asset","t":2009.75,"v":-0.0306},{"s":"Asset","t":2010.0,"v":-0.0315},{"s":"Asset","t":2010.5,"v":-0.0326},{"s":"Asset","t":2010.75,"v":-0.0315},{"s":"Asset","t":2011.2,"v":-0.0330},{"s":"Asset","t":2011.5,"v":-0.0336},{"s":"Asset","t":2012.05,"v":-0.0306},{"s":"Asset","t":2012.6,"v":-0.0278},{"s":"Asset","t":2013.2,"v":-0.0251},{"s":"Asset","t":2013.75,"v":-0.0251},{"s":"Asset","t":2014.2,"v":-0.0261},{"s":"Asset","t":2014.7,"v":-0.0285},{"s":"Asset","t":2015.05,"v":-0.0294},{"s":"Asset","t":2015.6,"v":-0.0289},{"s":"Asset","t":2016.1,"v":-0.03055},{"s":"Asset","t":2016.55,"v":-0.0294},{"s":"Asset","t":2016.8,"v":-0.0287},{"s":"Asset","t":2017.1,"v":-0.0298},{"s":"Asset","t":2017.6,"v":-0.0298},{"s":"Asset","t":2017.95,"v":-0.0332},{"s":"Asset","t":2018.4,"v":-0.0333},{"s":"Asset","t":2018.7,"v":-0.0326},{"s":"Asset","t":2018.95,"v":-0.0336},{"s":"Asset","t":2019.4,"v":-0.0347},{"s":"Asset","t":2019.8,"v":-0.0343},{"s":"Asset","t":2020.1,"v":-0.0348},{"s":"Asset","t":2020.45,"v":-0.0319},{"s":"Asset","t":2021.0,"v":-0.0281}
]
},
"spacing": 122,
"bounds": "flush",
"resolve": {"scale": {"x": "independent", "y": "independent", "color": "independent", "strokeDash": "independent"}, "legend": {"color": "independent", "strokeDash": "independent"}},
"vconcat": [
{
  "width": 1114, "height": 310,
  "title": {"text": "UST Portfolio Strategy Balance Sheet Properties", "dy": 15},
  "data": {"name": "p1"},
  "mark": {"type": "line", "strokeWidth": 3, "strokeCap": "butt"},
  "encoding": {
    "x": {"field": "t", "type": "quantitative", "scale": {"domain": [1965.5, 2021.2], "nice": false, "zero": false}, "axis": {"values": [1971, 1981, 1991, 2001, 2011, 2021], "format": "d", "title": null, "labelPadding": 22}},
    "y": {"field": "v", "type": "quantitative", "scale": {"domain": [0, 1], "nice": false}, "axis": {"values": [0, 0.2, 0.4, 0.6, 0.8, 1], "format": "~g", "title": "Share of Book Asset", "titleX": -56, "titleBaseline": "middle", "labelPadding": 21}},
    "color": {"field": "s", "type": "nominal", "sort": ["Average Leverage", "Average Cash Share"], "scale": {"domain": ["Average Leverage", "Average Cash Share"], "range": ["#7E2F8E", "#FF00FF"]},
      "legend": {"title": null, "orient": "none", "legendX": 855, "legendY": 10, "symbolType": "M-1,0H5", "symbolSize": 400, "symbolStrokeWidth": 3, "labelOffset": 45, "padding": 5, "rowPadding": 5, "strokeColor": "#404040", "fillColor": "white"}},
    "strokeDash": {"field": "s", "type": "nominal", "sort": ["Average Leverage", "Average Cash Share"], "scale": {"domain": ["Average Leverage", "Average Cash Share"], "range": [[12, 5, 3, 5], [3, 3]]},
      "legend": {"title": null, "orient": "none", "legendX": 855, "legendY": 10, "symbolType": "M-1,0H5", "symbolSize": 400, "symbolStrokeWidth": 3, "labelOffset": 45, "padding": 5, "rowPadding": 5, "strokeColor": "#404040", "fillColor": "white"}}
  }
},
{
  "width": 1114, "height": 310,
  "title": {"text": "UST Portfolio Strategy Maturity Properties", "dy": 15},
  "data": {"name": "p2"},
  "mark": {"type": "line", "strokeWidth": 3, "strokeCap": "butt"},
  "encoding": {
    "x": {"field": "t", "type": "quantitative", "scale": {"domain": [1965.5, 2021.2], "nice": false, "zero": false}, "axis": {"values": [1971, 1981, 1991, 2001, 2011, 2021], "format": "d", "title": null, "labelPadding": 22}},
    "y": {"field": "v", "type": "quantitative", "scale": {"domain": [0, 6], "nice": false}, "axis": {"values": [0, 1, 2, 3, 4, 5, 6], "format": "d", "title": "Matuity in Years", "titleX": -38, "titleBaseline": "middle", "labelPadding": 21}},
    "color": {"field": "s", "type": "nominal", "sort": ["Asset Maturity per $Assets", "Liability Maturity per $Assets"], "scale": {"domain": ["Asset Maturity per $Assets", "Liability Maturity per $Assets"], "range": ["#0000FF", "#0000FF"]},
      "legend": {"title": null, "orient": "none", "legendX": 778, "legendY": 165, "symbolType": "M-1,0H5", "symbolSize": 400, "symbolStrokeWidth": 3, "labelOffset": 45, "padding": 5, "rowPadding": 4, "strokeColor": "#404040", "fillColor": "white"}},
    "strokeDash": {"field": "s", "type": "nominal", "sort": ["Asset Maturity per $Assets", "Liability Maturity per $Assets"], "scale": {"domain": ["Asset Maturity per $Assets", "Liability Maturity per $Assets"], "range": [[12, 5, 3, 5], [3, 3]]},
      "legend": {"title": null, "orient": "none", "legendX": 778, "legendY": 165, "symbolType": "M-1,0H5", "symbolSize": 400, "symbolStrokeWidth": 3, "labelOffset": 45, "padding": 5, "rowPadding": 4, "strokeColor": "#404040", "fillColor": "white"}}
  }
},
{
  "width": 1114, "height": 310,
  "title": {"text": "UST Portfolio Strategy Duration Risk", "dy": 103},
  "data": {"name": "p3"},
  "mark": {"type": "line", "strokeWidth": 3, "strokeCap": "butt"},
  "encoding": {
    "x": {"field": "t", "type": "quantitative", "scale": {"domain": [1965.5, 2021.2], "nice": false, "zero": false}, "axis": {"values": [1971, 1981, 1991, 2001, 2011, 2021], "format": "d", "title": null, "labelPadding": 22}},
    "y": {"field": "v", "type": "quantitative", "scale": {"domain": [-0.04, 0], "nice": false, "zero": false}, "axis": {"values": [-0.04, -0.03, -0.02, -0.01, 0], "labelExpr": "replace(format(datum.value, '~g'), '\u2212', '-')", "title": "Sensitivity to 1% Change in Short-term Interest Rate", "titleX": -71, "titleBaseline": "middle", "labelPadding": 21}},
    "color": {"field": "s", "type": "nominal", "scale": {"domain": ["Asset", "Liability"], "range": ["#0000FF", "#0000FF"]}, "legend": null},
    "strokeDash": {"field": "s", "type": "nominal", "scale": {"domain": ["Asset", "Liability"], "range": [[12, 5, 3, 5], [3, 3]]}, "legend": null}
  }
}
]
}
